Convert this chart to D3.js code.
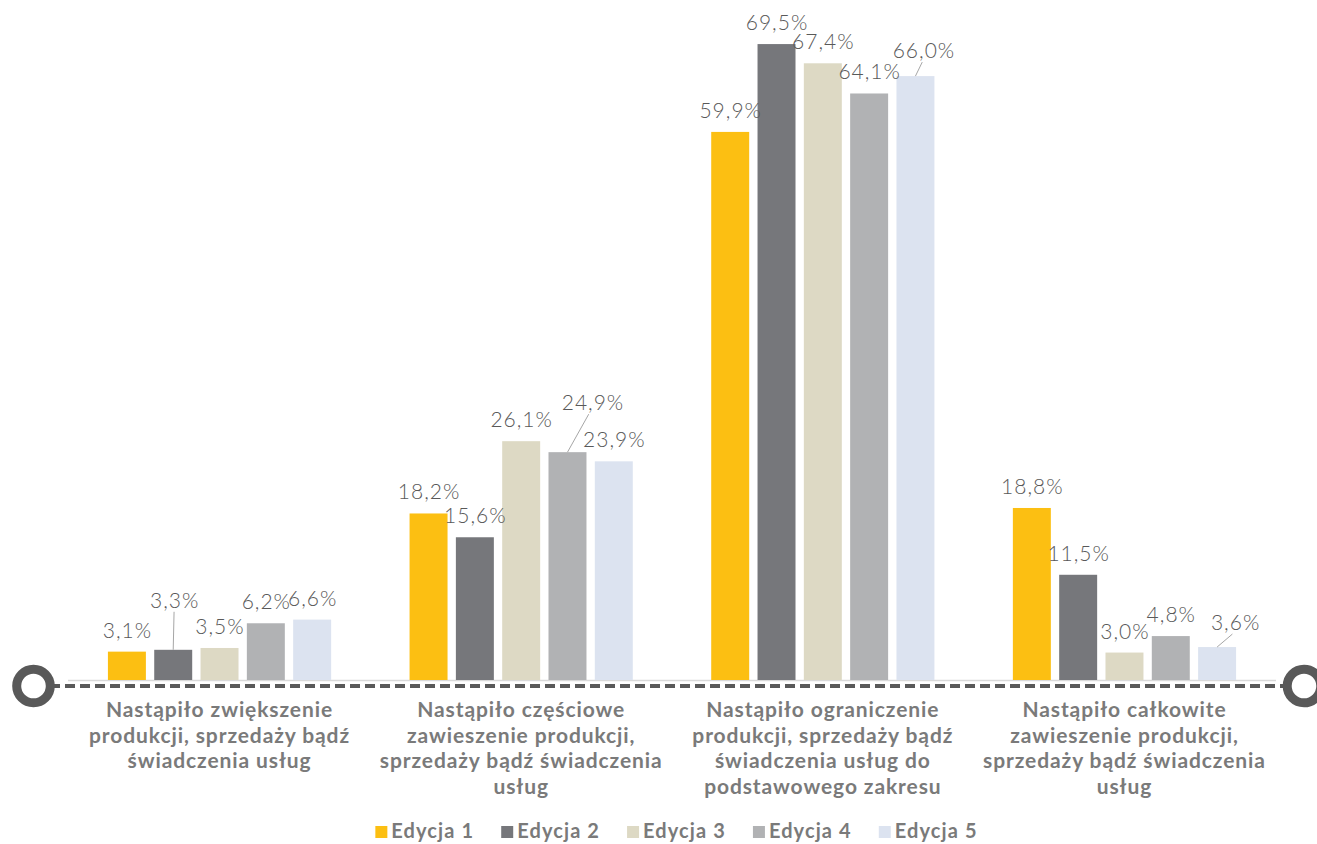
<!DOCTYPE html>
<html><head><meta charset="utf-8">
<script src="https://cdn.jsdelivr.net/npm/d3@7"></script>
<style>
html,body{margin:0;padding:0;background:#fff;}
svg{display:block;}
</style></head>
<body>
<svg id="chart" width="1317" height="844"></svg>
<script>
const categories = [
  ["Nastąpiło zwiększenie", "produkcji, sprzedaży bądź", "świadczenia usług"],
  ["Nastąpiło częściowe", "zawieszenie produkcji,", "sprzedaży bądź świadczenia", "usług"],
  ["Nastąpiło ograniczenie", "produkcji, sprzedaży bądź", "świadczenia usług do", "podstawowego zakresu"],
  ["Nastąpiło całkowite", "zawieszenie produkcji,", "sprzedaży bądź świadczenia", "usług"]
];
const series = ["Edycja 1", "Edycja 2", "Edycja 3", "Edycja 4", "Edycja 5"];
const edycja1 = [3.1, 18.2, 59.9, 18.8];
const edycja2 = [3.3, 15.6, 69.5, 11.5];
const edycja3 = [3.5, 26.1, 67.4, 3.0];
const edycja4 = [6.2, 24.9, 64.1, 4.8];
const edycja5 = [6.6, 23.9, 66.0, 3.6];
const values = [edycja1, edycja2, edycja3, edycja4, edycja5];
const colors = ["#FCBF12", "#76777B", "#DDD9C4", "#B1B2B4", "#DCE3F0"];

// moved labels (with leader lines): key "group-series" -> offset
const labelMoves = {"0-1": [1, -28], "1-3": [25, -28], "2-4": [8, -4], "3-4": [18, -3]};

const FONT = "Lato, 'Open Sans', sans-serif";
const svg = d3.select("#chart");
const base = 680;
const x0 = d3.scaleBand().domain(d3.range(categories.length)).range([68.7, 1275.3]).paddingInner(0.26).paddingOuter(0.13);
const x1 = d3.scaleBand().domain(d3.range(series.length)).range([0, x0.bandwidth()]).paddingInner(0.18);
const y = d3.scaleLinear().domain([0, 70]).range([base, base - 640.5]);

// baseline
svg.append("line").attr("x1", 68).attr("x2", 1276).attr("y1", base + 0.5).attr("y2", base + 0.5)
  .attr("stroke", "#d9d9d9").attr("stroke-width", 1.5);

// dashed timeline
svg.append("line").attr("x1", 50).attr("x2", 1288).attr("y1", 686).attr("y2", 686)
  .attr("stroke", "#595959").attr("stroke-width", 4).attr("stroke-dasharray", "10,5");
[33.5, 1304].forEach(cx => {
  svg.append("circle").attr("cx", cx).attr("cy", 686).attr("r", 16.8)
    .attr("fill", "#fff").attr("stroke", "#595959").attr("stroke-width", 9);
});

const data = [];
categories.forEach((c, g) => series.forEach((s, i) => data.push({g, i, v: values[i][g]})));

const fmt = v => v.toFixed(1).replace(".", ",") + "%";

svg.append("g").selectAll("rect").data(data).join("rect")
  .attr("x", d => x0(d.g) + x1(d.i))
  .attr("width", x1.bandwidth())
  .attr("y", d => y(d.v))
  .attr("height", d => base - y(d.v))
  .attr("fill", d => colors[d.i]);

const lbl = svg.append("g");
data.forEach(d => {
  const cx = x0(d.g) + x1(d.i) + x1.bandwidth() / 2;
  const top = y(d.v);
  const mv = labelMoves[d.g + "-" + d.i] || [0, 0];
  const tx = cx + mv[0], ty = top - 14 + mv[1];
  if (labelMoves[d.g + "-" + d.i]) {
    lbl.append("line").attr("x1", cx).attr("y1", top)
      .attr("x2", cx + mv[0] * 0.85).attr("y2", ty + 4)
      .attr("stroke", "#a6a6a6").attr("stroke-width", 1);
  }
  lbl.append("text").attr("x", tx + 0.5).attr("y", ty)
    .attr("text-anchor", "middle")
    .attr("font-family", FONT)
    .attr("font-weight", 300)
    .attr("letter-spacing", 1)
    .attr("font-size", 21).attr("fill", "#595959")
    .text(fmt(d.v));
});

// category labels
const cat = svg.append("g");
categories.forEach((lines, g) => {
  const t = cat.append("text").attr("text-anchor", "middle")
    .attr("font-family", FONT).attr("font-weight", 700)
    .attr("letter-spacing", 0.9)
    .attr("font-size", 21).attr("fill", "#7a7a7a");
  lines.forEach((ln, k) => {
    t.append("tspan").attr("x", x0(g) + x0.bandwidth() / 2).attr("y", 717 + k * 25.5).text(ln);
  });
});

// legend
const leg = svg.append("g");
let cx = 0;
series.forEach((s, i) => {
  const it = leg.append("g");
  it.append("rect").attr("x", 0).attr("y", -12).attr("width", 12).attr("height", 12).attr("fill", colors[i]);
  const t = it.append("text").attr("x", 16).attr("y", 0)
    .attr("font-family", FONT).attr("font-weight", 700)
    .attr("letter-spacing", 1.1)
    .attr("font-size", 20).attr("fill", "#7a7a7a").text(s);
  const w = 16 + t.node().getComputedTextLength();
  it.attr("transform", `translate(${cx},0)`);
  cx += w + 27;
});
const total = cx - 27;
leg.attr("transform", `translate(${676.5 - total / 2},838)`);
</script>
</body></html>
